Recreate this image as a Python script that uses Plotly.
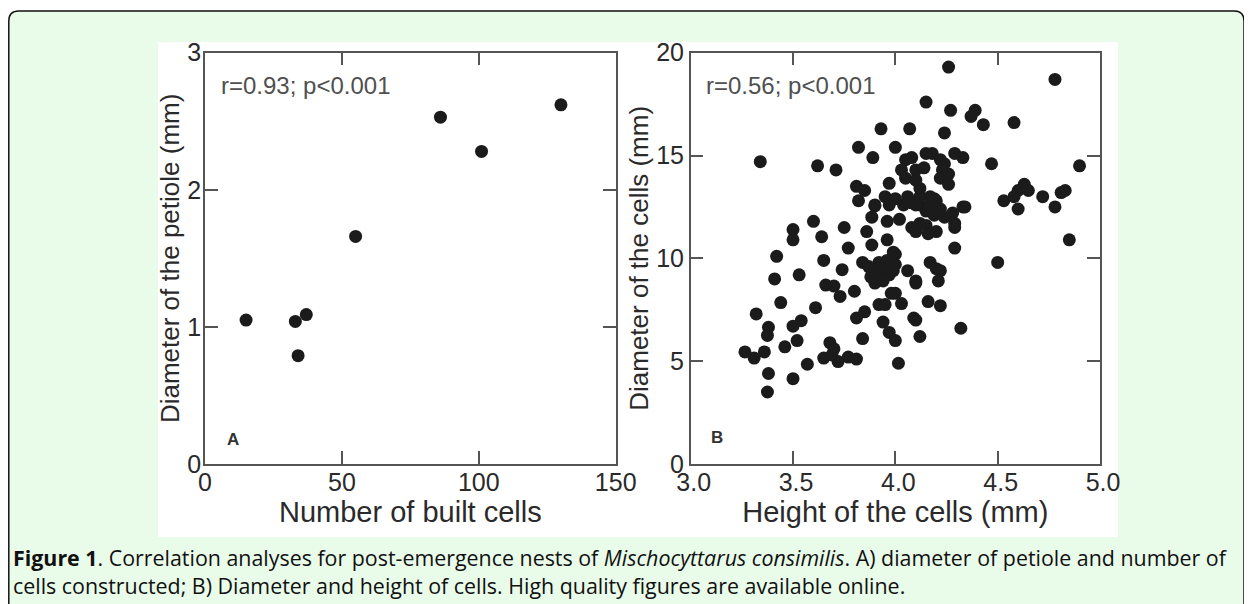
import plotly.graph_objects as go

# page body adds an 8px margin, so the figure is drawn 8px smaller and coordinates shifted
OFF = 8
W, H = 1252 - OFF, 604 - OFF

# Panel A data
cells_built = [15, 33, 37, 34, 55, 86, 101, 130]
petiole_diam = [1.05, 1.04, 1.09, 0.79, 1.66, 2.53, 2.28, 2.62]

# Panel B data (height of cells mm, diameter of cells mm)
cell_height = [
    4.26, 4.78, 4.15, 4.27, 4.37, 4.39, 4.43, 4.58,
    3.93, 4.07, 4.24, 3.82, 3.89, 4.00, 3.34, 3.62, 3.71, 4.47, 4.90,
    4.05, 4.08, 4.15, 4.18, 4.29, 4.33, 4.22, 4.24,
    4.03, 4.10, 4.14, 4.23, 4.26, 4.05, 4.10, 4.22, 4.26,
    3.97, 3.81, 3.85, 4.12, 4.12, 4.12, 4.06, 3.82, 3.90,
    3.95, 4.00, 4.17, 4.20, 4.08, 4.15, 4.19, 4.19,
    3.90, 3.97, 4.04, 4.10, 4.17, 4.33, 4.28, 4.24, 4.22,
    3.885, 3.96, 4.02, 4.08, 4.12, 4.15, 4.16, 4.20, 4.10, 4.29, 4.29, 4.29,
    3.75, 3.86, 3.96, 3.885, 3.77, 4.00, 3.99,
    4.53, 4.58, 4.63, 4.65, 4.60, 4.60, 4.72, 4.78, 4.81, 4.83, 4.85, 4.50, 4.32, 4.34,
    4.17, 4.20, 4.22, 4.21, 3.84, 3.87, 3.90, 3.93, 3.88, 3.92, 3.95, 3.97, 3.99,
    3.94, 3.90, 3.96, 3.92, 4.00, 4.06, 4.10, 3.98, 4.03,
    3.60, 3.50, 3.50, 3.64, 3.42, 3.65, 3.74, 3.53, 3.41, 3.66, 3.70, 3.73, 3.80,
    3.44, 3.61, 3.32, 3.54, 3.50, 3.38, 3.375, 3.265, 3.31, 3.36, 3.46, 3.52,
    3.57, 3.38, 3.50, 3.375,
    3.68, 3.70, 3.65, 3.72, 3.69, 3.77, 3.81, 3.84, 3.81, 3.85, 3.92, 3.95,
    3.94, 3.97, 4.00, 4.015, 4.12, 4.09, 4.10, 4.16, 4.22, 4.00, 4.10,
]
cell_diam = [
    19.3, 18.7, 17.6, 17.2, 16.9, 17.2, 16.5, 16.6,
    16.3, 16.3, 16.1, 15.4, 14.9, 15.4, 14.7, 14.5, 14.3, 14.6, 14.5,
    14.8, 14.9, 15.1, 15.1, 15.1, 14.9, 14.8, 14.6,
    14.3, 14.3, 14.4, 14.3, 14.1, 13.9, 13.8, 13.9, 13.6,
    13.65, 13.5, 13.3, 13.4, 13.0, 12.6, 13.0, 12.8, 12.55,
    13.0, 12.9, 13.0, 12.8, 12.7, 12.3, 12.9, 12.1,
    12.6, 12.6, 12.6, 12.6, 12.6, 12.5, 12.2, 12.0, 12.4,
    12.0, 11.8, 11.9, 11.5, 11.7, 11.6, 11.2, 11.3, 11.3, 11.5, 11.7, 10.5,
    11.5, 11.3, 10.9, 10.65, 10.5, 10.2, 10.3,
    12.8, 13.0, 13.6, 13.3, 13.3, 12.4, 13.0, 12.5, 13.2, 13.3, 10.9, 9.8, 6.6, 12.5,
    9.8, 9.5, 9.4, 8.9, 9.8, 9.6, 9.5, 9.3, 9.1, 9.0, 9.6, 9.2, 9.4,
    8.9, 8.8, 9.9, 9.8, 9.7, 9.4, 8.9, 8.3, 7.8,
    11.8, 11.4, 10.9, 11.05, 10.1, 9.9, 9.45, 9.2, 9.0, 8.7, 8.65, 8.15, 8.4,
    7.85, 7.6, 7.3, 6.97, 6.7, 6.65, 6.25, 5.45, 5.15, 5.45, 5.7, 6.0,
    4.85, 4.4, 4.15, 3.5,
    5.9, 5.6, 5.15, 4.98, 5.3, 5.2, 5.1, 6.1, 7.1, 7.4, 7.75, 7.75,
    6.9, 6.4, 6.0, 4.9, 6.2, 7.1, 7.0, 7.9, 7.7, 8.3, 8.8,
]

xA_ticks = [0, 50, 100, 150]
yA_ticks = [0, 1, 2, 3]
xB_ticks = [3.0, 3.5, 4.0, 4.5, 5.0]
yB_ticks = [0, 5, 10, 15, 20]

def px(x):
    return (x - OFF) / W

def py(y):
    return 1 - (y - OFF) / H

MARK = "#1b1b1b"
AX = "#555555"
TXT = "#2a2a2a"
FONT = "Liberation Sans"

fig = go.Figure()
fig.add_trace(go.Scatter(x=cells_built, y=petiole_diam, mode="markers",
                         marker=dict(size=13, color=MARK, line=dict(width=0)),
                         xaxis="x", yaxis="y", showlegend=False, hoverinfo="skip"))
fig.add_trace(go.Scatter(x=cell_height, y=cell_diam, mode="markers",
                         marker=dict(size=13, color=MARK, line=dict(width=0)),
                         xaxis="x2", yaxis="y2", showlegend=False, hoverinfo="skip"))

axis_common = dict(showline=True, linecolor=AX, linewidth=1.5, mirror="allticks",
                   ticks="inside", ticklen=13, tickwidth=1.5, tickcolor=AX,
                   showgrid=False, zeroline=False, automargin=False,
                   tickfont=dict(family=FONT, size=25, color=TXT))

ydom = [py(464), py(52.7)]
fig.update_layout(
    template="none",
    width=W, height=H,
    margin=dict(l=0, r=0, t=0, b=0, pad=0, autoexpand=False),
    paper_bgcolor="white", plot_bgcolor="white",
    xaxis=dict(domain=[px(205), px(615.7)], range=[0, 150], tickvals=xA_ticks,
               anchor="y", ticklabelstandoff=-5,
               title=dict(text="Number of built cells", standoff=5,
                          font=dict(family=FONT, size=29, color=TXT)),
               **axis_common),
    yaxis=dict(domain=ydom, range=[0, 3], tickvals=yA_ticks, anchor="x",
               ticklabelstandoff=-3,
               title=dict(text="Diameter of the petiole (mm)", standoff=0,
                          font=dict(family=FONT, size=26, color=TXT)),
               **axis_common),
    xaxis2=dict(domain=[px(690.7), px(1100)], range=[3, 5], tickvals=xB_ticks,
                tickformat=".1f", anchor="y2", ticklabelstandoff=-5, ticklabelshift=3,
                title=dict(text="Height of the cells (mm)", standoff=5,
                           font=dict(family=FONT, size=29, color=TXT)),
                **axis_common),
    yaxis2=dict(domain=ydom, range=[0, 20], tickvals=yB_ticks, anchor="x2",
                ticklabelstandoff=0,
                title=dict(text="Diameter of the cells (mm)", standoff=0,
                           font=dict(family=FONT, size=26, color=TXT)),
                **axis_common),
)

# background rounded box (light green) and white figure area
x0, x1, y0, y1, r = 8.8, 1244, 11, 620, 10
path = (f"M {px(x0+r)},{py(y0)} L {px(x1-r)},{py(y0)} "
        f"Q {px(x1)},{py(y0)} {px(x1)},{py(y0+r)} L {px(x1)},{py(y1)} "
        f"L {px(x0)},{py(y1)} L {px(x0)},{py(y0+r)} "
        f"Q {px(x0)},{py(y0)} {px(x0+r)},{py(y0)} Z")
fig.add_shape(type="path", path=path, xref="paper", yref="paper",
              fillcolor="#e9fbe9", line=dict(color="#111111", width=1.5), layer="below")
fig.add_shape(type="rect", xref="paper", yref="paper",
              x0=px(158), x1=px(1118), y0=py(537), y1=py(42),
              fillcolor="white", line=dict(width=0), layer="below")

ann_font = dict(family=FONT, size=24, color="#505050")
fig.add_annotation(text="r=0.93; p<0.001", xref="paper", yref="paper",
                   x=px(219), y=py(86), xanchor="left", yanchor="middle",
                   showarrow=False, font=ann_font)
fig.add_annotation(text="r=0.56; p<0.001", xref="paper", yref="paper",
                   x=px(704), y=py(86), xanchor="left", yanchor="middle",
                   showarrow=False, font=ann_font)
fig.add_annotation(text="<b>A</b>", xref="paper", yref="paper",
                   x=px(233), y=py(439), xanchor="center", yanchor="middle",
                   showarrow=False, font=dict(family=FONT, size=17, color="#333333"))
fig.add_annotation(text="<b>B</b>", xref="paper", yref="paper",
                   x=px(717), y=py(437), xanchor="center", yanchor="middle",
                   showarrow=False, font=dict(family=FONT, size=17, color="#333333"))

cap_font = dict(family="Open Sans", size=21.4, color="#111111")
fig.add_annotation(
    text="<b>Figure 1</b>. Correlation analyses for post-emergence nests of "
         "<i>Mischocyttarus consimilis</i>. A) diameter of petiole and number of<br>"
         "cells constructed; B) Diameter and height of cells. High quality figures are available online.",
    xref="paper", yref="paper", x=px(11), y=py(571), xanchor="left", yanchor="middle",
    showarrow=False, font=cap_font, align="left")

fig.write_html("out.html")
